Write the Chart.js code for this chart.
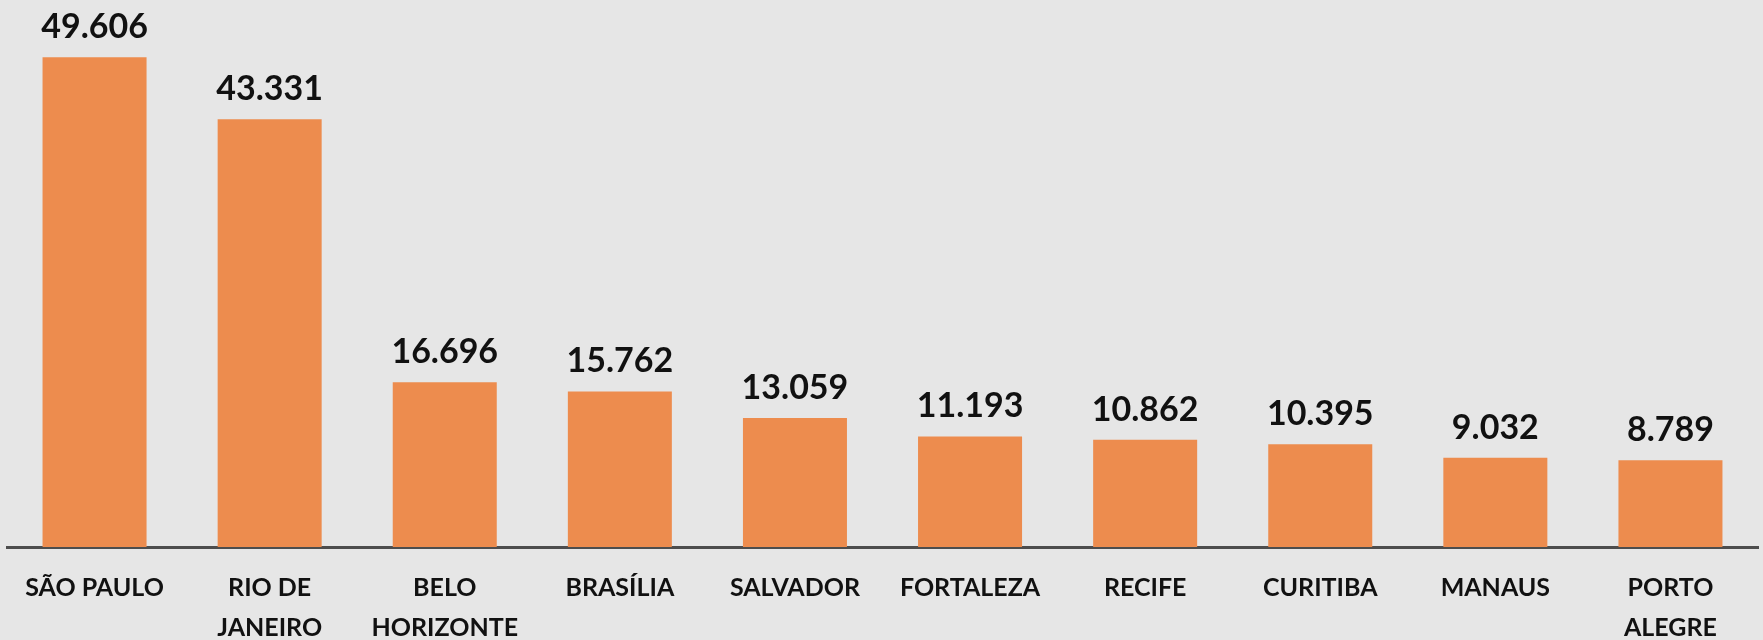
<!DOCTYPE html>
<html>
<head>
<meta charset="utf-8">
<script src="https://cdn.jsdelivr.net/npm/chart.js@4"></script>
<style>
  html, body { margin: 0; padding: 0; background: #e6e6e6; }
  #wrap { width: 1763px; height: 640px; }
</style>
</head>
<body>
<div id="wrap"><canvas id="cidades"></canvas></div>
<script>
var cities = [
    ['SÃO PAULO'], ['RIO DE', 'JANEIRO'], ['BELO', 'HORIZONTE'], ['BRASÍLIA'], ['SALVADOR'],
    ['FORTALEZA'], ['RECIFE'], ['CURITIBA'], ['MANAUS'], ['PORTO', 'ALEGRE']
];
var values = [49606, 43331, 16696, 15762, 13059, 11193, 10862, 10395, 9032, 8789];

function fmt(v) {
    return String(v).replace(/\B(?=(\d{3})+(?!\d))/g, '.');
}

// draws the value above each bar
var valueLabels = {
    id: 'valueLabels',
    afterDatasetsDraw: function (chart) {
        var ctx = chart.ctx;
        var meta = chart.getDatasetMeta(0);
        ctx.save();
        ctx.font = 'bold 34px Lato';
        ctx.fillStyle = '#111111';
        ctx.textAlign = 'center';
        ctx.textBaseline = 'bottom';
        meta.data.forEach(function (bar, i) {
            ctx.fillText(fmt(values[i]), bar.x, bar.y - 13);
        });
        ctx.restore();
    }
};

var ctx = document.getElementById('cidades').getContext('2d');
var myChart = new Chart(ctx, {
    type: 'bar',
    data: {
        labels: cities,
        datasets: [{
            data: values,
            backgroundColor: 'rgb(237, 140, 78)',
            borderWidth: 0,
            categoryPercentage: 1,
            barPercentage: 0.594
        }]
    },
    options: {
        responsive: true,
        maintainAspectRatio: false,
        animation: false,
        layout: { padding: { left: 7, right: 5, top: 4, bottom: 0 } },
        plugins: {
            legend: { display: false },
            tooltip: { enabled: false }
        },
        scales: {
            y: { display: false, min: 0, max: 55000 },
            x: {
                grid: { display: false },
                border: { display: true, color: '#4d4d4d', width: 3 },
                ticks: {
                    color: '#111111',
                    font: { family: 'Lato', weight: 'bold', size: 25, lineHeight: 1.6 },
                    padding: 13,
                    maxRotation: 0,
                    autoSkip: false
                },
                afterFit: function (scale) { scale.height = 93; }
            }
        }
    },
    plugins: [valueLabels]
});
</script>
</body>
</html>
